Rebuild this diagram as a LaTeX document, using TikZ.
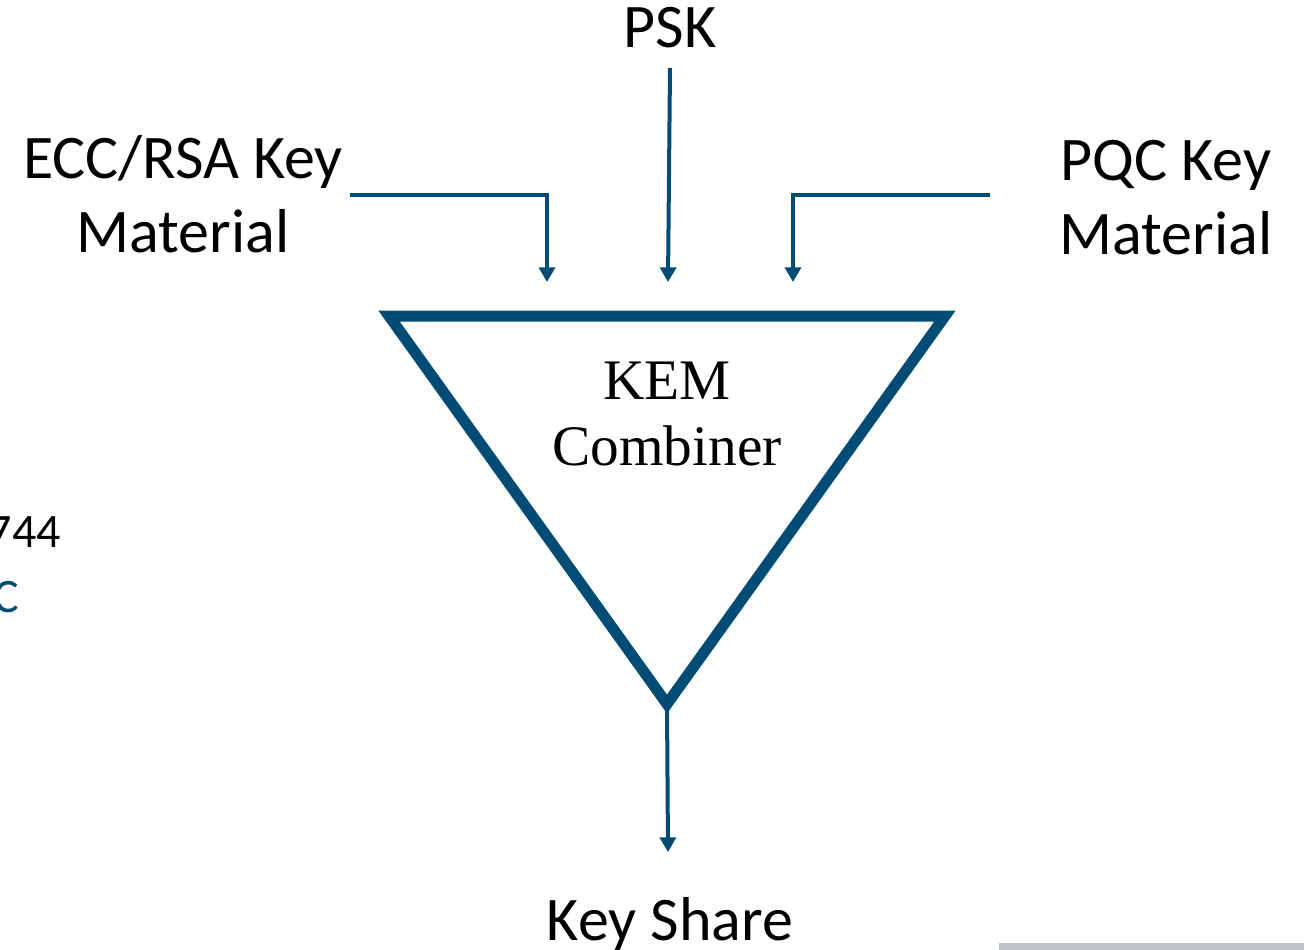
\documentclass[tikz,border=0pt]{standalone}
\usepackage{fontspec}
\setmainfont{Carlito}
\newfontfamily\kemfont{Liberation Serif}
\usetikzlibrary{arrows.meta}
\definecolor{kemblue}{RGB}{0,76,117}
\definecolor{bargray}{RGB}{189,195,199}

\begin{document}
\begin{tikzpicture}[x=0.75pt,y=-0.75pt,>={Triangle[length=11pt,width=12pt]},
	txt/.style={font=\fontsize{46.5}{55.5}\selectfont,align=center,inner sep=0pt,anchor=base},
	frag/.style={font=\fontsize{36}{43}\selectfont,inner sep=0pt,anchor=base east},
	feed/.style={->,draw=kemblue,line width=3pt},
	combiner/.style={draw=kemblue,line width=8.25pt}]
			\useasboundingbox (0,0) rectangle (1304,950);

			% inputs and output (base anchor sits on the last line)
			\node[txt] (psk) at (670,47) {PSK};
			\node[txt] (ecc) at (183,252) {ECC/RSA Key\\Material};
			\node[txt] (pqc) at (1166,254) {PQC Key\\Material};
			\node[txt] (share) at (670,940) {Key Share};
			\node[frag] (ref) at (61,547) {744};
			\node[frag,text=kemblue] (refc) at (19,612) {C};

			% the combiner
			\coordinate (tl) at (389,316);
			\coordinate (tr) at (945,316);
			\coordinate (bt) at (667,704);
			\draw[combiner] (tl) -- (tr) -- (bt) -- cycle;
			\node[font=\kemfont\fontsize{43}{49}\selectfont,align=center,anchor=base] (kem) at (667,465) {KEM\\Combiner};

			\coordinate (eccin) at (350,195);
			\coordinate (eccout) at (547,282);
			\coordinate (pskin) at (670,68);
			\coordinate (pskout) at (668,282);
			\coordinate (pqcin) at (990,195);
			\coordinate (pqcout) at (793,282);
			\coordinate (shareout) at (668,852);

			\draw[feed] (eccin) -| (eccout);
			\draw[feed] (pskin) -- (pskout);
			\draw[feed] (pqcin) -| (pqcout);
			\draw[feed] (bt) -- (shareout);

			\fill[bargray] (999,943) rectangle (1304,950);
\end{tikzpicture}
\end{document}
